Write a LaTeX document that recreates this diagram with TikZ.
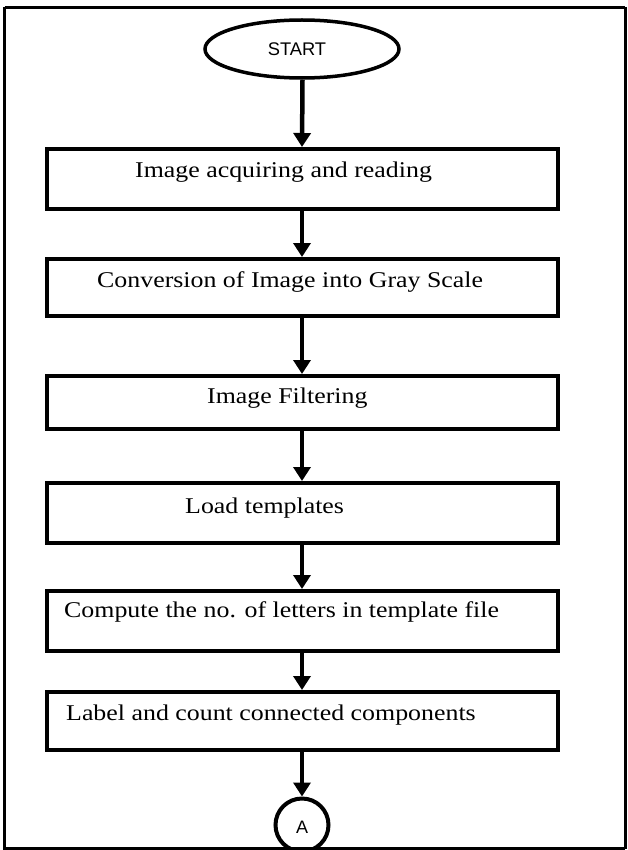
\documentclass[tikz,border=0pt]{standalone}
\usepackage{fontspec}
\setmainfont[FakeStretch=1.15]{Liberation Serif}
\newfontfamily\labelsans{Liberation Sans}
\usetikzlibrary{arrows.meta,shapes.geometric}

\tikzset{
  frame/.style={line width=3pt},
  stepbox/.style={draw, line width=4pt, rectangle, inner sep=0pt,
    minimum width=511pt},
  terminal/.style={draw, line width=3.5pt, ellipse, inner sep=0pt,
    minimum width=194pt, minimum height=58pt},
  connector/.style={draw, line width=4pt, circle, inner sep=0pt,
    minimum size=53pt},
  steptext/.style={anchor=base west, inner sep=0pt,
    font=\fontsize{22.5}{26}\selectfont},
  flow/.style={line width=4.5pt,
    -{Triangle[length=14pt,width=17pt]}}
}

\begin{document}
\begin{tikzpicture}[x=1pt,y=-1pt]
  \useasboundingbox (0,0) rectangle (627,850);
  \clip (0,0) rectangle (627,850);

  % start terminal
  \node[terminal] (start) at (302,49) {};
  \node[anchor=base, inner sep=0pt, font=\labelsans\fontsize{18.3}{20}\selectfont]
    (starttext) at (297,56) {START};

  % process steps
  \node[stepbox, minimum height=60pt] (b1) at (302.5,179) {};
  \node[stepbox, minimum height=57pt] (b2) at (302.5,287.5) {};
  \node[stepbox, minimum height=53pt] (b3) at (302.5,402.5) {};
  \node[stepbox, minimum height=60pt] (b4) at (302.5,513) {};
  \node[stepbox, minimum height=60pt] (b5) at (302.5,621) {};
  \node[stepbox, minimum height=58pt] (b6) at (302.5,721) {};

  \node[steptext] (t1) at (135,178) {Image acquiring and reading};
  \node[steptext] (t2) at (97,287) {Conversion of Image into Gray Scale};
  \node[steptext] (t3) at (207,403) {Image Filtering};
  \node[steptext] (t4) at (185,513) {Load templates};
  \node[steptext] (t5) at (64,617) {Compute the no. of letters in template file};
  \node[steptext] (t6) at (66,720) {Label and count connected components};

  % off-page connector
  \node[connector] (conA) at (302,825) {};
  \node[anchor=base, inner sep=0pt, font=\labelsans\fontsize{18}{20}\selectfont]
    (conAtext) at (302,833) {A};

  % flow arrows
  \draw[flow] (start.south -| b1.north) -- (b1.north -| 302,0);
  \draw[flow] (b1.south -| 302,0) -- (b2.north -| 302,0);
  \draw[flow] (b2.south -| 302,0) -- (b3.north -| 302,0);
  \draw[flow] (b3.south -| 302,0) -- (b4.north -| 302,0);
  \draw[flow] (b4.south -| 302,0) -- (b5.north -| 302,0);
  \draw[flow] (b5.south -| 302,0) -- (b6.north -| 302,0);
  \draw[flow] (b6.south -| 302,0) -- (conA.north);

  % page frame
  \draw[frame] (4.5,7.5) -- (625,7.5);
  \draw[frame] (4.5,7.5) -- (4.5,848.5) -- (625,848.5);
  \draw[frame] (625,7.5) -- (625,848.5);
\end{tikzpicture}
\end{document}
